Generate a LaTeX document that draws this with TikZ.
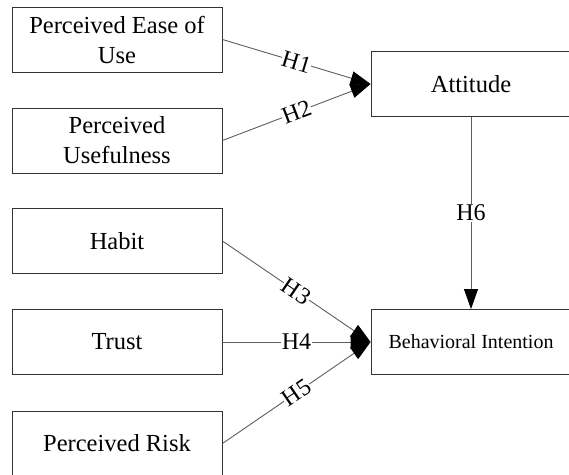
\documentclass[tikz,border=0pt]{standalone}
\usepackage{fontspec}
\setmainfont{Liberation Serif}
\usetikzlibrary{arrows.meta}
\definecolor{boxline}{HTML}{333333}
\definecolor{linkgray}{HTML}{5E5E5E}

\begin{document}
\begin{tikzpicture}[x=1pt,y=-1pt,
    construct/.style={draw=boxline,line width=0.9pt,minimum width=210pt,minimum height=65pt,align=center,inner sep=2pt,font=\fontsize{24.5}{30}\selectfont},
    target/.style={construct,minimum width=200pt},
    link/.style={draw=linkgray,line width=0.9pt,-{Triangle[length=20pt,width=14pt,color=black]}},
    hyp/.style={midway,fill=white,inner sep=0.5pt,font=\fontsize{24}{24}\selectfont}]
  \useasboundingbox (0,0) rectangle (569,474);

  % predictors
  \node[construct] (peou) at (117,39.5) {Perceived Ease of\\Use};
  \node[construct] (pu)   at (117,140.5) {Perceived\\Usefulness};
  \node[construct] (hab)  at (117,241) {Habit};
  \node[construct] (tru)  at (117,342) {Trust};
  \node[construct] (risk) at (117,443.5) {Perceived Risk};

  % outcomes
  \node[target] (att) at (471,84) {Attitude};
  \node[target,font=\fontsize{20}{24}\selectfont] (bi) at (471,342) {Behavioral Intention};

  % hypotheses
  \draw[link] (peou.east) -- (att.west) node[hyp,sloped] {H1};
  \draw[link] (pu.east) -- (att.west) node[hyp,sloped] {H2};
  \draw[link] (hab.east) -- (bi.west) node[hyp,sloped] {H3};
  \draw[link] (tru.east) -- (bi.west) node[hyp,sloped] {H4};
  \draw[link] (risk.east) -- (bi.west) node[hyp,sloped] {H5};
  \draw[link] (att.south) -- (bi.north) node[hyp] {H6};
\end{tikzpicture}
\end{document}
